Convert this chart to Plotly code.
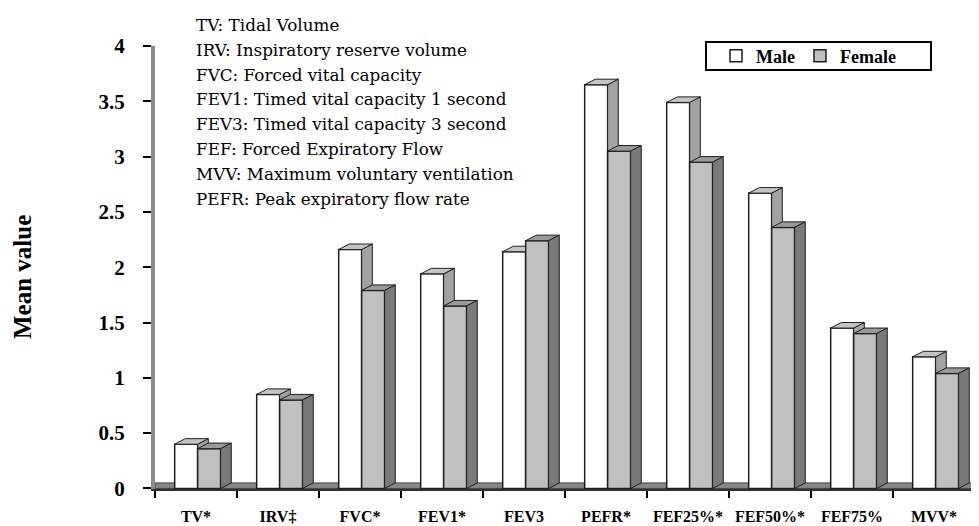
import plotly.graph_objects as go

categories = ["TV*", "IRV‡", "FVC*", "FEV1*", "FEV3", "PEFR*", "FEF25%*", "FEF50%*", "FEF75%", "MVV*"]
male = [0.40, 0.85, 2.16, 1.94, 2.14, 3.65, 3.49, 2.67, 1.45, 1.19]
female = [0.36, 0.80, 1.79, 1.65, 2.24, 3.05, 2.95, 2.36, 1.40, 1.04]
y_ticks = [0, 0.5, 1, 1.5, 2, 2.5, 3, 3.5, 4]
notes = [
    "TV: Tidal Volume",
    "IRV: Inspiratory reserve volume",
    "FVC: Forced vital capacity",
    "FEV1: Timed vital capacity 1 second",
    "FEV3: Timed vital capacity 3 second",
    "FEF: Forced Expiratory Flow",
    "MVV: Maximum voluntary ventilation",
    "PEFR: Peak expiratory flow rate",
]

W_PX, H_PX = 979, 526
PAGE_OFF = 8                       # default page body margin
# plot area in screen pixels
P_L, P_R, P_T, P_B = 155, 975, 46, 489
M_L, M_T = P_L - PAGE_OFF, P_T - PAGE_OFF
M_R, M_B = W_PX - (P_R - PAGE_OFF), H_PX - (P_B - PAGE_OFF)
PLOT_W = P_R - P_L
PLOT_H = P_B - P_T

n = len(categories)
xs = list(range(n))
W = 0.28          # bar width (category units)
OFF_M = -0.26     # male bar offset
OFF_F = OFF_M + W
DX = 0.13         # 3D depth, x
DY = 0.05         # 3D depth, y

SERIF = "Liberation Serif, Times New Roman, serif"
NOTE_FONT = "DejaVu Serif, serif"

M_FRONT, M_TOP, M_SIDE = "#ffffff", "#c4c4c4", "#a2a2a2"
F_FRONT, F_TOP, F_SIDE = "#c0c0c0", "#9a9a9a", "#7a7a7a"
EDGE = "#1e1e1e"


def px_x(p):
    return (p - P_L) / PLOT_W


def px_y(p):
    return (P_B - p) / PLOT_H


def poly_trace(polys, color):
    px, py = [], []
    for p in polys:
        for a, b in p:
            px.append(a)
            py.append(b)
        px.append(p[0][0])
        py.append(p[0][1])
        px.append(None)
        py.append(None)
    return go.Scatter(x=px, y=py, mode="lines", fill="toself", fillcolor=color,
                      line=dict(color=EDGE, width=1), hoverinfo="skip", showlegend=False)


m_side, m_top, f_side, f_top = [], [], [], []
for i in xs:
    m, f = male[i], female[i]
    mx0, mx1 = i + OFF_M, i + OFF_M + W
    fx0, fx1 = i + OFF_F, i + OFF_F + W
    if m > f:
        m_side.append([(mx1, f), (mx1, m), (mx1 + DX, m + DY), (mx1 + DX, f)])
        m_top.append([(mx0, m), (mx1, m), (mx1 + DX, m + DY), (mx0 + DX, m + DY)])
    else:
        m_top.append([(mx0, m), (mx1, m), (mx1, m + DY), (mx0 + DX, m + DY)])
    f_top.append([(fx0, f), (fx1, f), (fx1 + DX, f + DY), (fx0 + DX, f + DY)])
    f_side.append([(fx1, 0), (fx1, f), (fx1 + DX, f + DY), (fx1 + DX, DY)])

fig = go.Figure()
fig.add_trace(go.Bar(x=xs, y=male, width=W, offset=OFF_M, name="Male",
                     marker=dict(color=M_FRONT, line=dict(color=EDGE, width=1.5))))
fig.add_trace(go.Bar(x=xs, y=female, width=W, offset=OFF_F, name="Female",
                     marker=dict(color=F_FRONT, line=dict(color=EDGE, width=1.5))))
fig.add_trace(poly_trace(m_side, M_SIDE))
fig.add_trace(poly_trace(m_top, M_TOP))
fig.add_trace(poly_trace(f_top, F_TOP))
fig.add_trace(poly_trace(f_side, F_SIDE))

x_lo, x_hi = -0.5, n - 0.5
boundaries = [i - 0.5 for i in range(n + 1)]

# 3D floor
fig.add_shape(type="rect", xref="x", yref="y", x0=x_lo, x1=x_hi, y0=0, y1=DY,
              fillcolor="#878787", line=dict(color="#404040", width=1), layer="below")

# notes text block
y0_px, pitch = 25, 24.8
for k, t in enumerate(notes):
    fig.add_annotation(text=t, xref="paper", yref="paper",
                       x=px_x(194), y=px_y(y0_px + k * pitch),
                       xanchor="left", yanchor="middle", showarrow=False,
                       font=dict(family=NOTE_FONT, size=16.8, color="black"))

# y-axis title
fig.add_annotation(text="<b>Mean value</b>", xref="paper", yref="paper",
                   x=px_x(22), y=px_y(277),
                   xanchor="center", yanchor="middle", textangle=-90, showarrow=False,
                   font=dict(family=SERIF, size=25, color="black"))

# legend box
fig.add_shape(type="rect", xref="paper", yref="paper",
              x0=px_x(706), x1=px_x(931), y0=px_y(70), y1=px_y(42),
              line=dict(color="black", width=2), fillcolor="white", layer="above")

fig.update_layout(
    width=W_PX, height=H_PX,
    margin=dict(l=M_L, r=M_R, t=M_T, b=M_B, autoexpand=False),
    paper_bgcolor="white", plot_bgcolor="white",
    barmode="overlay",
    showlegend=True,
    legend=dict(orientation="h", x=px_x(716), y=px_y(56),
                xanchor="left", yanchor="middle", bgcolor="rgba(0,0,0,0)", borderwidth=0,
                font=dict(family=SERIF, size=18, color="black", weight="bold"),
                traceorder="normal", itemwidth=30),
    xaxis=dict(range=[x_lo, x_hi], tickmode="array", tickvals=xs, ticktext=categories,
               ticks="", showgrid=False, zeroline=False, showline=True, automargin=False,
               linecolor="#303030", linewidth=1.5,
               tickfont=dict(family=SERIF, size=16, color="black", weight="bold"),
               ticklabelstandoff=12,
               minor=dict(tickmode="array", tickvals=boundaries, ticks="outside",
                          ticklen=7, tickwidth=1.5, tickcolor="black", showgrid=False)),
    yaxis=dict(range=[-0.005, 4.0], tickmode="array", tickvals=y_ticks,
               ticktext=[f"{v:g}" for v in y_ticks], automargin=False,
               ticks="outside", ticklen=8, tickwidth=1.5, tickcolor="black",
               showgrid=False, zeroline=False, showline=True,
               linecolor="#8c8c8c", linewidth=4,
               tickfont=dict(family=SERIF, size=21, color="black", weight="bold"),
               ticklabelstandoff=14),
)

fig.write_html("out.html")
